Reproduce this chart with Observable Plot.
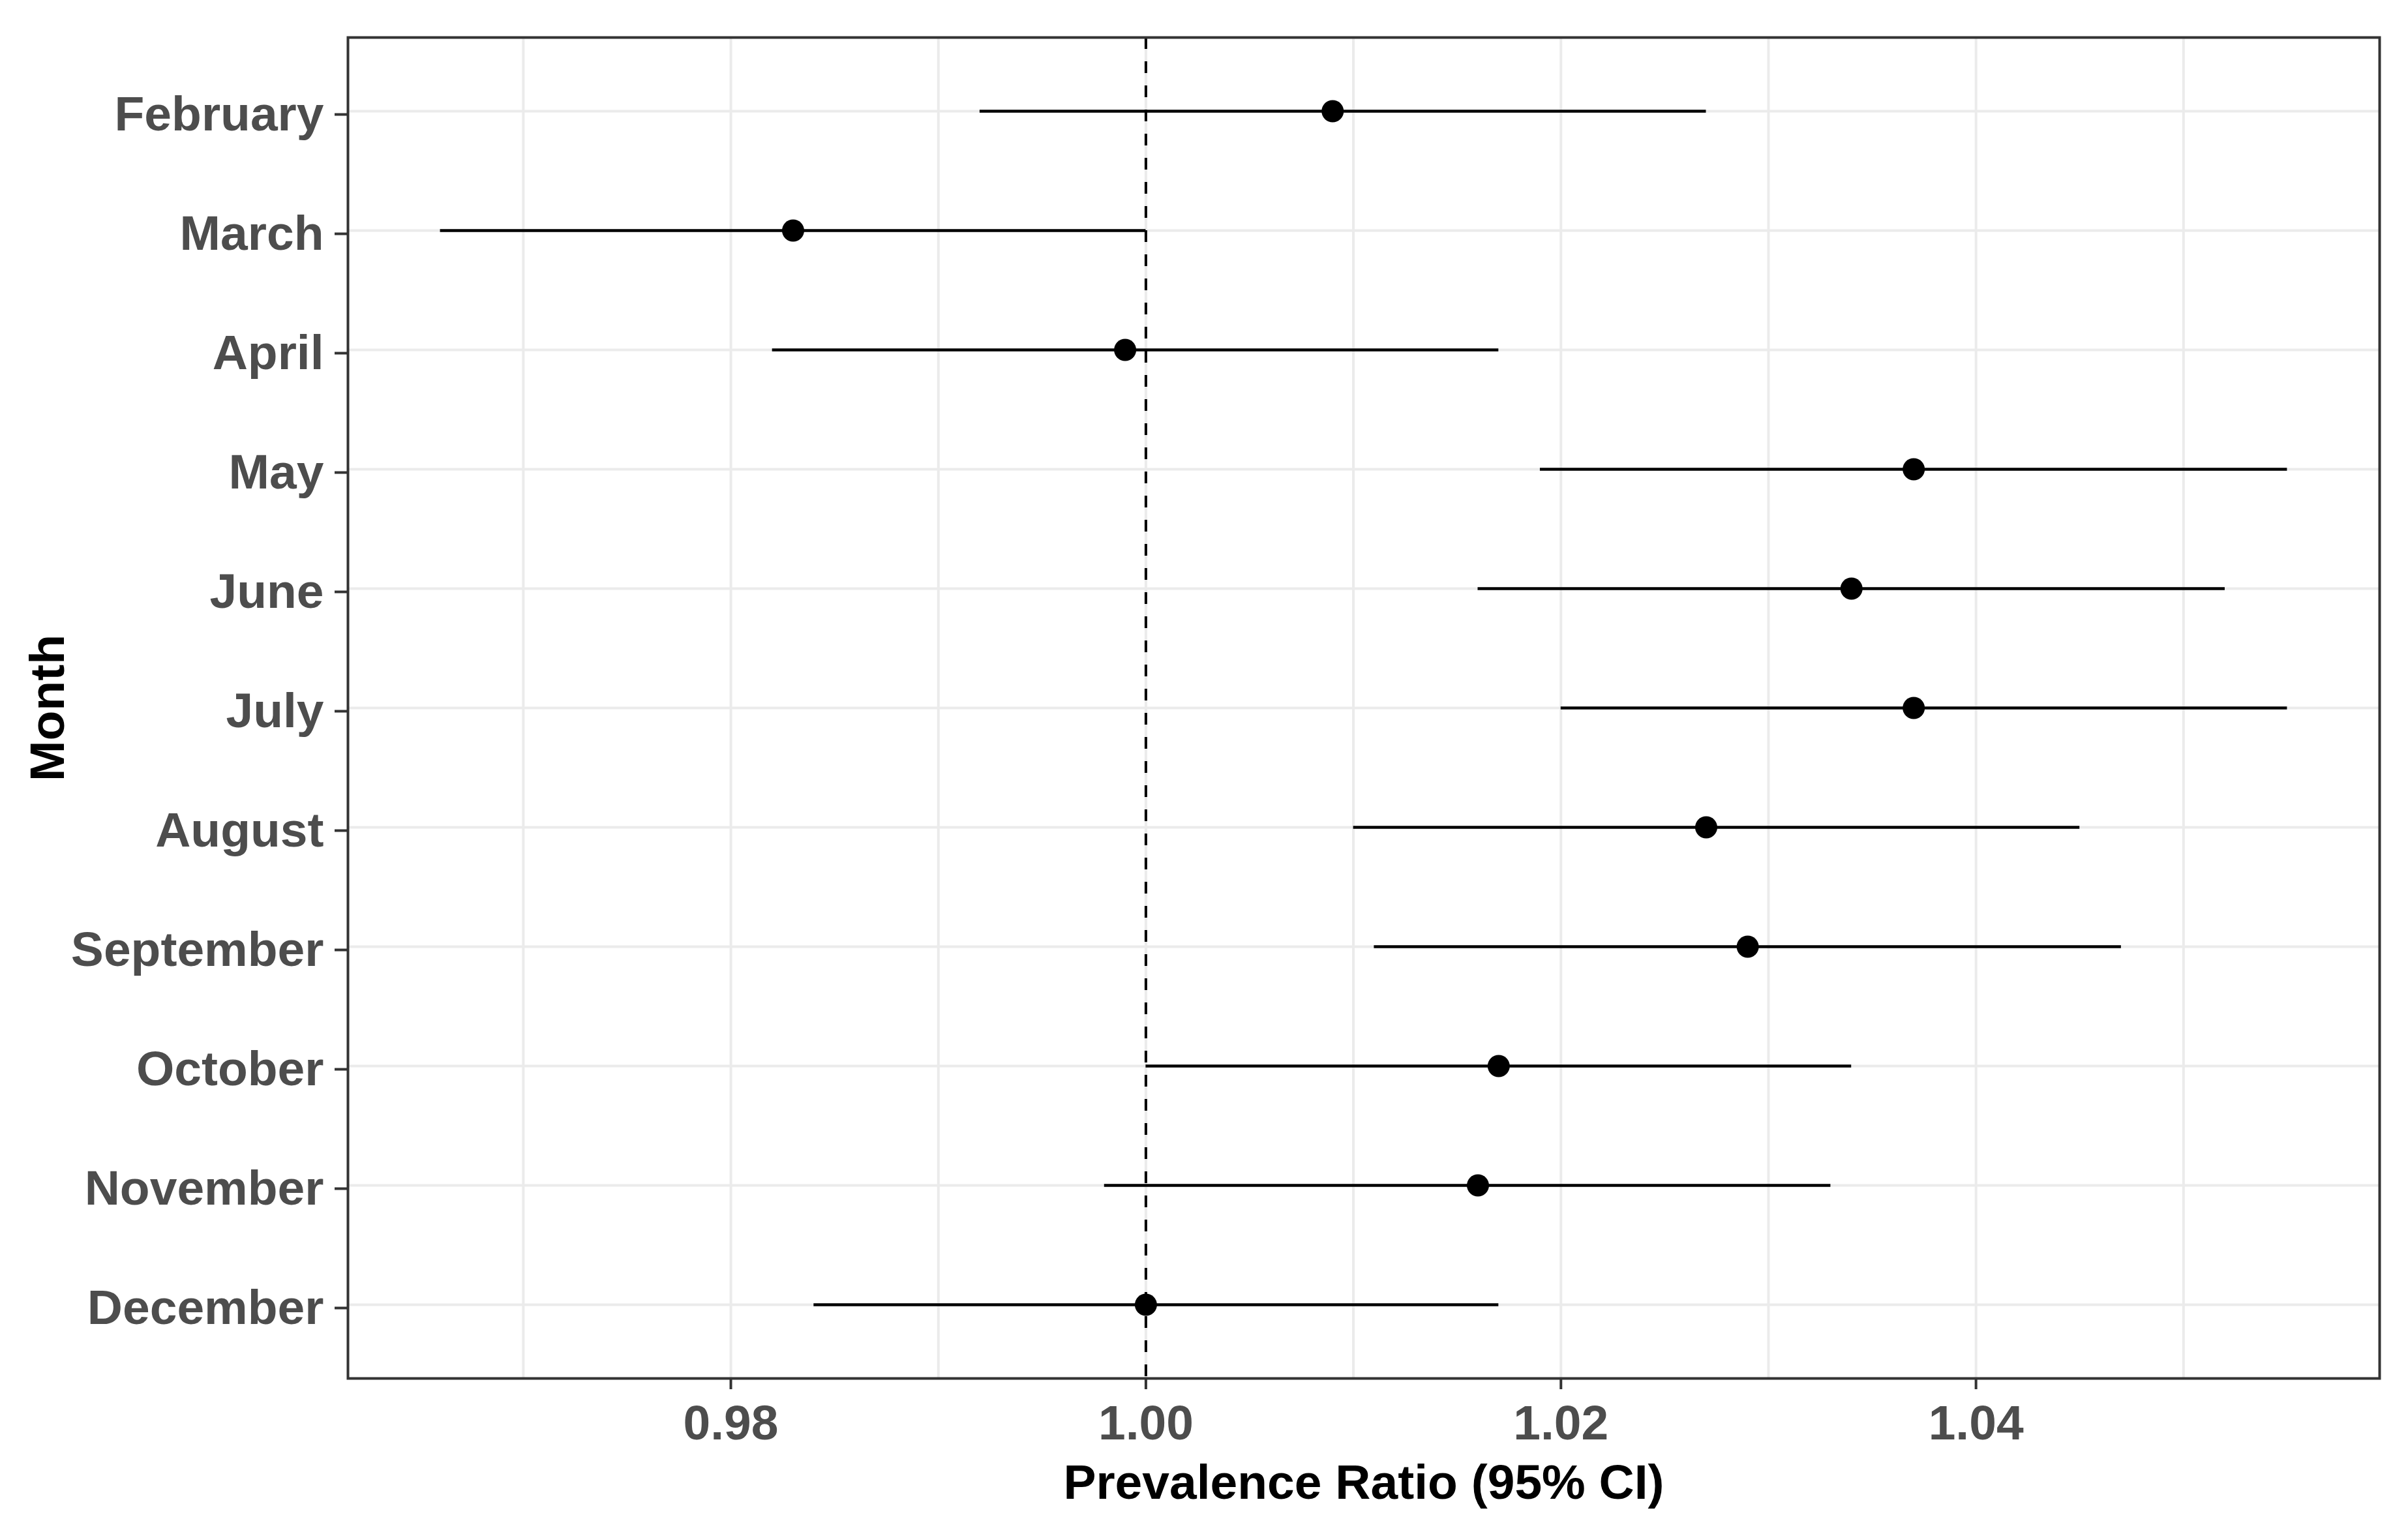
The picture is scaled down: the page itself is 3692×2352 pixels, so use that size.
<!DOCTYPE html>
<html>
<head>
<meta charset="utf-8">
<script src="https://cdn.jsdelivr.net/npm/d3@7"></script>
<script src="https://cdn.jsdelivr.net/npm/@observablehq/plot@0.6"></script>
<style>
  html, body { margin: 0; padding: 0; background: #ffffff; }
  #chart svg { display: block; }
</style>
</head>
<body>
<div id="chart"></div>
<script>
const months = ["February", "March", "April", "May", "June", "July", "August", "September", "October", "November", "December"];
const estimate = [1.009, 0.983, 0.999, 1.037, 1.034, 1.037, 1.027, 1.029, 1.017, 1.016, 1.000];
const lower    = [0.992, 0.966, 0.982, 1.019, 1.016, 1.020, 1.010, 1.011, 1.000, 0.998, 0.984];
const upper    = [1.027, 1.000, 1.017, 1.055, 1.052, 1.055, 1.045, 1.047, 1.034, 1.033, 1.017];
const majorTicks = [0.98, 1.00, 1.02, 1.04];
const minorTicks = [0.97, 0.99, 1.01, 1.03, 1.05];
const referenceValue = [1];
const xTitle = "Prevalence Ratio (95% CI)";
const yTitle = "Month";

const rows = months.map((m, i) => ({month: m, pr: estimate[i], lo: lower[i], hi: upper[i]}));

const dmin = d3.min(lower), dmax = d3.max(upper);
const pad = (dmax - dmin) * 0.05;

const font = "'Liberation Sans', Arial, sans-serif";

const chart = Plot.plot({
  width: 3692,
  height: 2352,
  marginLeft: 533,
  marginRight: 44,
  marginTop: 57,
  marginBottom: 239,
  style: {fontFamily: font, background: "#ffffff", overflow: "visible"},
  x: {domain: [dmin - pad, dmax + pad]},
  y: {type: "point", domain: months, padding: 0.6},
  marks: [
    Plot.gridX(minorTicks, {stroke: "#ebebeb", strokeOpacity: 1, strokeWidth: 4}),
    Plot.gridX(majorTicks, {stroke: "#ebebeb", strokeOpacity: 1, strokeWidth: 4}),
    Plot.gridY(months, {stroke: "#ebebeb", strokeOpacity: 1, strokeWidth: 4}),
    Plot.ruleX(referenceValue, {stroke: "#000000", strokeWidth: 4, strokeDasharray: "18,19"}),
    Plot.ruleY(rows, {y: "month", x1: "lo", x2: "hi", stroke: "#000000", strokeWidth: 4.5}),
    Plot.dot(rows, {x: "pr", y: "month", r: 17, fill: "#000000", stroke: "none"}),
    Plot.axisX(majorTicks, {
      tickFormat: d3.format(".2f"), tickSize: 17, tickPadding: 23,
      fontSize: 75, fontWeight: "bold", fill: "#4d4d4d",
      stroke: "#333333", strokeWidth: 4, label: null
    }),
    Plot.axisY(months, {
      tickSize: 20, tickPadding: 17, dy: 5,
      fontSize: 75, fontWeight: "bold", fill: "#4d4d4d",
      stroke: "#333333", strokeWidth: 4, label: null
    }),
    Plot.frame({stroke: "#333333", strokeWidth: 4}),
    Plot.text([xTitle], {
      text: d => d, frameAnchor: "bottom", lineAnchor: "bottom", dy: 184,
      fontSize: 75, fontWeight: "bold", fill: "#000000"
    }),
    Plot.text([yTitle], {
      text: d => d, frameAnchor: "left", textAnchor: "middle", lineAnchor: "bottom",
      rotate: -90, dx: -436,
      fontSize: 75, fontWeight: "bold", fill: "#000000"
    })
  ]
});

document.getElementById("chart").appendChild(chart);
</script>
</body>
</html>
